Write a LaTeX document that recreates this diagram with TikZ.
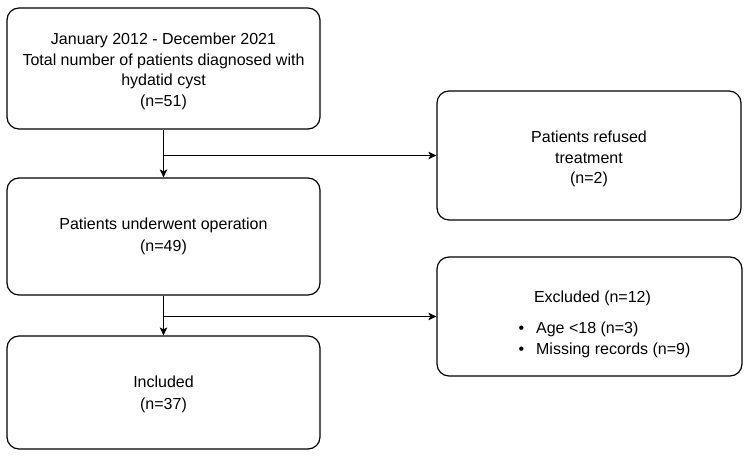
\documentclass[tikz,border=0pt]{standalone}
\usepackage{fontspec}
\setmainfont{Liberation Sans}
\usetikzlibrary{positioning,arrows.meta}

\begin{document}
\begin{tikzpicture}[x=1pt,y=-1pt,>={Stealth[length=8pt,width=7.5pt,inset=2pt]},
  flowbox/.style={draw,line width=1.2pt,rounded corners=12pt,align=center,
    font=\fontsize{16}{20.5}\selectfont,inner sep=0pt},
  link/.style={->,line width=1pt}]
  \useasboundingbox (0,0) rectangle (750,457);

  \node[flowbox,minimum width=313,minimum height=121] (total) at (163.5,68.5)
    {\rule{0pt}{17pt}January 2012 - December 2021\\Total number of patients diagnosed with\\hydatid cyst\\(n=51)};
  \node[flowbox,minimum width=304,minimum height=129] (refused) at (589,155.5)
    {\rule{0pt}{19pt}Patients refused\\treatment\\(n=2)};
  \node[flowbox,minimum width=313,minimum height=117] (operation) at (163.5,236.5)
    {Patients underwent operation\\[1.5pt](n=49)};
  \node[flowbox,minimum width=305,minimum height=119] (excluded) at (589.5,316.5)
    {\rule{0pt}{30pt}\hspace*{6pt}Excluded (n=12)\\[12pt]
     \hspace*{30pt}\begin{tabular}{@{}l@{}}
       \textbullet\hspace{12pt}Age <18 (n=3)\\
       \textbullet\hspace{12pt}Missing records (n=9)
     \end{tabular}};
  \node[flowbox,minimum width=313,minimum height=113] (included) at (163.5,392.5)
    {\rule{0pt}{15pt}Included\\[2pt](n=37)};

  \draw[link] (total.south) -- (operation.north);
  \draw[link] (total.south |- refused.west) -- (refused.west);
  \draw[link] (operation.south) -- (included.north);
  \draw[link] (operation.south |- excluded.west) -- (excluded.west);
\end{tikzpicture}
\end{document}
